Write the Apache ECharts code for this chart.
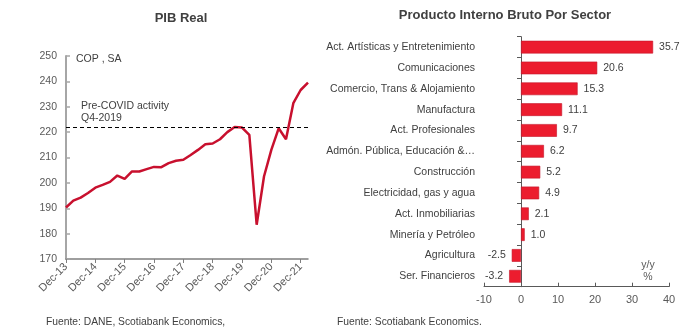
<!DOCTYPE html>
<html>
<head>
<meta charset="utf-8">
<script src="https://cdn.jsdelivr.net/npm/echarts@6/dist/echarts.min.js"></script>
<style>
html,body{margin:0;padding:0;background:#fff;}
#chart{width:700px;height:335px;}
</style>
</head>
<body>
<div id="chart"></div>
<script>
// ---- Left chart: PIB Real (quarterly) ----
const quarters = [
  "Dec-13","Mar-14","Jun-14","Sep-14","Dec-14","Mar-15","Jun-15","Sep-15",
  "Dec-15","Mar-16","Jun-16","Sep-16","Dec-16","Mar-17","Jun-17","Sep-17",
  "Dec-17","Mar-18","Jun-18","Sep-18","Dec-18","Mar-19","Jun-19","Sep-19",
  "Dec-19","Mar-20","Jun-20","Sep-20","Dec-20","Mar-21","Jun-21","Sep-21",
  "Dec-21","Mar-22"
];
const pibReal = [
  190.3,193.0,194.2,196.0,198.1,199.2,200.4,202.9,
  201.6,204.5,204.5,205.4,206.3,206.2,207.8,208.7,
  209.1,211.0,213.0,215.2,215.5,217.2,220.0,222.0,
  221.8,218.9,183.5,202.5,213.0,221.5,217.2,231.4,
  236.6,239.5
];
const preCovidLevel = 221.8;
const pibTicks = { min: 170, max: 250, interval: 10 };

// ---- Right chart: PIB por sector (y/y %) ----
const sectors = [
  "Act. Artísticas y Entretenimiento",
  "Comunicaciones",
  "Comercio, Trans & Alojamiento",
  "Manufactura",
  "Act. Profesionales",
  "Admón. Pública, Educación &…",
  "Construcción",
  "Electricidad, gas y agua",
  "Act. Inmobiliarias",
  "Minería y Petróleo",
  "Agricultura",
  "Ser. Financieros"
];
const sectorGrowth = [35.7, 20.6, 15.3, 11.1, 9.7, 6.2, 5.2, 4.9, 2.1, 1.0, -2.5, -3.2];
const sectorTicks = { min: -10, max: 40, interval: 10 };

const FONT = "'Liberation Sans', Arial, sans-serif";
const TXT = '#404040';
const FS = 10.5;

const chart = echarts.init(document.getElementById('chart'), null, {renderer: 'canvas'});

const barData = sectorGrowth.map(v => ({
  value: v,
  label: { position: v < 0 ? 'left' : 'right' }
}));

const option = {
  animation: false,
  backgroundColor: '#ffffff',
  textStyle: { fontFamily: FONT },
  grid: [
    { left: 66, right: 392, top: 56, bottom: 76 },
    { left: 484, right: 31, top: 36.7, bottom: 48.3 }
  ],
  xAxis: [
    {
      gridIndex: 0,
      type: 'category',
      data: quarters,
      boundaryGap: false,
      axisLine: { lineStyle: { color: '#7f7f7f', width: 1.5 } },
      axisTick: { show: true, interval: 3, length: 4, lineStyle: { color: '#7f7f7f' } },
      axisLabel: { interval: 3, rotate: 45, fontSize: 11, color: '#595959', margin: 6, fontFamily: FONT },
      splitLine: { show: false }
    },
    {
      gridIndex: 1,
      type: 'value',
      min: sectorTicks.min, max: sectorTicks.max, interval: sectorTicks.interval,
      axisLine: { show: true, lineStyle: { color: '#595959', width: 1 } },
      axisTick: { show: true, inside: true, length: 4, lineStyle: { color: '#595959' } },
      axisLabel: { fontSize: 11, color: '#595959', margin: 8, fontFamily: FONT },
      splitLine: { show: false }
    }
  ],
  yAxis: [
    {
      gridIndex: 0,
      type: 'value',
      min: pibTicks.min, max: pibTicks.max, interval: pibTicks.interval,
      axisLine: { show: true, lineStyle: { color: '#a6a6a6', width: 2 } },
      axisTick: { show: true, inside: true, length: 4, lineStyle: { color: '#a6a6a6', width: 1.5 } },
      axisLabel: { fontSize: FS, color: '#595959', margin: 9, fontFamily: FONT },
      splitLine: { show: false }
    },
    {
      gridIndex: 1,
      type: 'category',
      data: sectors,
      inverse: true,
      axisLine: { show: true, onZero: true, lineStyle: { color: '#595959', width: 1 } },
      axisTick: { show: true, length: 4, lineStyle: { color: '#595959' } },
      axisLabel: { fontSize: FS, color: TXT, margin: 9, fontFamily: FONT },
      splitLine: { show: false }
    }
  ],
  series: [
    {
      type: 'line',
      xAxisIndex: 0, yAxisIndex: 0,
      data: pibReal,
      showSymbol: false,
      symbol: 'none',
      lineStyle: { color: '#c8102e', width: 2.5 },
      markLine: {
        silent: true,
        symbol: ['none', 'none'],
        label: { show: false },
        lineStyle: { color: '#000000', type: [4, 3], width: 1 },
        data: [{ yAxis: preCovidLevel }]
      }
    },
    {
      type: 'bar',
      xAxisIndex: 1, yAxisIndex: 1,
      data: barData,
      barWidth: 12.7,
      itemStyle: { color: '#ec1c2e', borderColor: '#c4162a', borderWidth: 0.6 },
      label: {
        show: true,
        distance: 6,
        fontSize: FS,
        color: TXT,
        fontFamily: FONT,
        formatter: p => p.value.toFixed(1)
      }
    }
  ],
  graphic: [
    { type: 'text', x: 181, y: 18, style: { text: 'PIB Real', font: 'bold 13px ' + FONT, fill: TXT, align: 'center', verticalAlign: 'middle' } },
    { type: 'text', x: 505, y: 15, style: { text: 'Producto Interno Bruto Por Sector', font: 'bold 13px ' + FONT, fill: TXT, align: 'center', verticalAlign: 'middle' } },
    { type: 'text', x: 76, y: 59, style: { text: 'COP , SA', font: FS + 'px ' + FONT, fill: TXT, align: 'left', verticalAlign: 'middle' } },
    { type: 'text', x: 81, y: 106, style: { text: 'Pre-COVID activity', font: FS + 'px ' + FONT, fill: TXT, align: 'left', verticalAlign: 'middle' } },
    { type: 'text', x: 81, y: 118, style: { text: 'Q4-2019', font: FS + 'px ' + FONT, fill: TXT, align: 'left', verticalAlign: 'middle' } },
    { type: 'text', x: 648, y: 265, style: { text: 'y/y', font: FS + 'px ' + FONT, fill: '#595959', align: 'center', verticalAlign: 'middle' } },
    { type: 'text', x: 648, y: 277, style: { text: '%', font: FS + 'px ' + FONT, fill: '#595959', align: 'center', verticalAlign: 'middle' } },
    { type: 'text', x: 46, y: 322, style: { text: 'Fuente: DANE, Scotiabank Economics,', font: '10.3px ' + FONT, fill: TXT, align: 'left', verticalAlign: 'middle' } },
    { type: 'text', x: 337, y: 322, style: { text: 'Fuente: Scotiabank Economics.', font: '10.3px ' + FONT, fill: TXT, align: 'left', verticalAlign: 'middle' } }
  ]
};

chart.setOption(option);
</script>
</body>
</html>
